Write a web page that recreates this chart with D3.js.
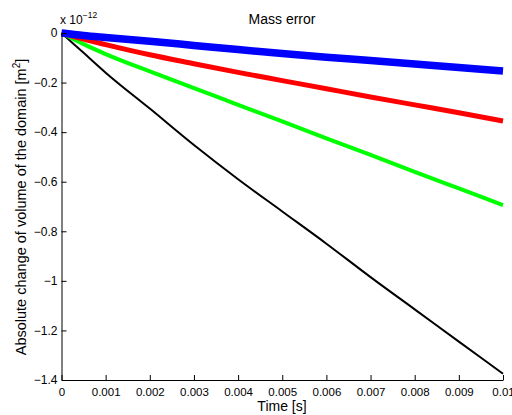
<!DOCTYPE html>
<html>
<head>
<meta charset="utf-8">
<script src="https://cdn.jsdelivr.net/npm/d3@7"></script>
<style>
  body { margin: 0; background: #fff; }
  text { font-family: "Liberation Sans", Arial, sans-serif; fill: #000; }
</style>
</head>
<body>
<div id="chart"></div>
<script>
const width = 512, height = 415;
const margin = { top: 33, right: 9, bottom: 35, left: 61.5 };

// values in units of 1e-12 m^2
const time = [0, 0.0005, 0.001, 0.002, 0.003, 0.004, 0.005, 0.006, 0.007, 0.008, 0.009, 0.01];
const blueVals = [0, -0.01, -0.018, -0.033, -0.05, -0.067, -0.083, -0.098, -0.111, -0.125, -0.139, -0.153];
const redVals = [0, -0.025, -0.047, -0.088, -0.124, -0.159, -0.192, -0.225, -0.258, -0.29, -0.322, -0.355];
const greenVals = [0, -0.045, -0.085, -0.155, -0.222, -0.29, -0.357, -0.425, -0.492, -0.56, -0.627, -0.694];
const blackVals = [0, -0.08, -0.16, -0.305, -0.452, -0.59, -0.72, -0.85, -0.985, -1.115, -1.245, -1.375];

const xTicks = [0, 0.001, 0.002, 0.003, 0.004, 0.005, 0.006, 0.007, 0.008, 0.009, 0.01];
const yTicks = [0, -0.2, -0.4, -0.6, -0.8, -1, -1.2, -1.4];

const series = [
  { vals: blackVals, color: "#000000", w: 2 },
  { vals: greenVals, color: "#00ff00", w: 4 },
  { vals: redVals, color: "#ff0000", w: 5 },
  { vals: blueVals, color: "#0000ff", w: 7.5 }
];

const svg = d3.select("#chart")
  .append("svg")
  .attr("width", width)
  .attr("height", height);

let x = d3.scaleLinear()
  .domain([0, 0.01])
  .range([margin.left, width - margin.right]);

let y = d3.scaleLinear()
  .domain([-1.4, 0])
  .range([height - margin.bottom, margin.top]);

let line = d3.line()
  .x((d, i) => x(time[i]))
  .y(d => y(d))
  .curve(d3.curveMonotoneX);

for (let s of series) {
  svg.append("path")
    .datum(s.vals)
    .attr("fill", "none")
    .attr("stroke", s.color)
    .attr("stroke-width", s.w)
    .attr("stroke-linejoin", "round")
    .attr("d", line);
}

const fmt = d => d === 0 ? "0" : String(d).replace("-", "\u2212");

// bottom axis, ticks inward
let xAxis = svg.append("g")
  .attr("transform", `translate(0,${height - margin.bottom})`)
  .call(d3.axisBottom(x).tickValues(xTicks).tickSizeInner(-5).tickSizeOuter(0).tickPadding(8).tickFormat(fmt));
xAxis.select(".domain").attr("stroke", "#000");
xAxis.selectAll("text").attr("font-size", 11.5).attr("fill", "#000");

// left axis, ticks inward
let yAxis = svg.append("g")
  .attr("transform", `translate(${margin.left},0)`)
  .call(d3.axisLeft(y).tickValues(yTicks).tickSizeInner(-5).tickSizeOuter(0).tickPadding(4).tickFormat(fmt));
yAxis.select(".domain").attr("stroke", "#000");
yAxis.selectAll("text").attr("font-size", 12).attr("fill", "#000");

svg.append("text")
  .attr("x", 282)
  .attr("y", 24)
  .attr("text-anchor", "middle")
  .attr("font-size", 14)
  .text("Mass error");

let expo = svg.append("text")
  .attr("x", 60)
  .attr("y", 24)
  .attr("font-size", 12);
expo.append("tspan").text("x 10");
expo.append("tspan").attr("dy", -6).attr("font-size", 8.5).text("\u221212");

svg.append("text")
  .attr("x", 282)
  .attr("y", 411)
  .attr("text-anchor", "middle")
  .attr("font-size", 14)
  .text("Time [s]");

let ylab = svg.append("text")
  .attr("transform", "translate(26,207) rotate(-90)")
  .attr("text-anchor", "middle")
  .attr("font-size", 14.5);
ylab.append("tspan").text("Absolute change of volume of the domain [m");
ylab.append("tspan").attr("dy", -6).attr("font-size", 10).text("2");
ylab.append("tspan").attr("dy", 6).text("]");
</script>
</body>
</html>
